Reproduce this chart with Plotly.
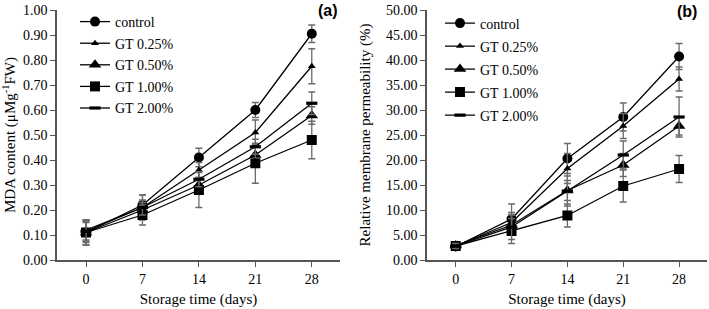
import plotly.graph_objects as go

days = [0, 7, 14, 21, 28]
names = ["control", "GT 0.25%", "GT 0.50%", "GT 1.00%", "GT 2.00%"]

mda_control = [0.11, 0.22, 0.41, 0.60, 0.905]
mda_gt025 = [0.12, 0.21, 0.36, 0.51, 0.775]
mda_gt050 = [0.11, 0.20, 0.30, 0.42, 0.578]
mda_gt100 = [0.11, 0.18, 0.28, 0.387, 0.48]
mda_gt200 = [0.115, 0.21, 0.323, 0.453, 0.627]

mda_err_control = [0.05, 0.04, 0.037, 0.03, 0.035]
mda_err_gt025 = [0.04, 0.05, 0.03, 0.05, 0.07]
mda_err_gt050 = [0.04, 0.03, 0.03, 0.04, 0.035]
mda_err_gt100 = [0.05, 0.04, 0.07, 0.08, 0.075]
mda_err_gt200 = [0.04, 0.03, 0.03, 0.03, 0.045]

rmp_control = [2.7, 8.2, 20.3, 28.6, 40.7]
rmp_gt025 = [2.8, 7.5, 18.3, 26.8, 36.2]
rmp_gt050 = [2.9, 7.0, 13.9, 19.0, 26.8]
rmp_gt100 = [2.8, 5.8, 8.9, 14.8, 18.2]
rmp_gt200 = [2.8, 6.6, 13.8, 21.0, 28.6]

rmp_err_control = [0.5, 3.0, 3.0, 2.8, 2.6]
rmp_err_gt025 = [0.5, 2.0, 3.0, 2.5, 2.4]
rmp_err_gt050 = [0.5, 2.0, 2.0, 2.3, 1.8]
rmp_err_gt100 = [0.4, 2.5, 2.3, 3.2, 2.7]
rmp_err_gt200 = [0.5, 2.5, 3.0, 2.8, 4.0]

y_ticks_a = [0.0, 0.1, 0.2, 0.3, 0.4, 0.5, 0.6, 0.7, 0.8, 0.9, 1.0]
y_ticks_b = [0, 5, 10, 15, 20, 25, 30, 35, 40, 45, 50]

mda = [mda_control, mda_gt025, mda_gt050, mda_gt100, mda_gt200]
mda_err = [mda_err_control, mda_err_gt025, mda_err_gt050, mda_err_gt100, mda_err_gt200]
rmp = [rmp_control, rmp_gt025, rmp_gt050, rmp_gt100, rmp_gt200]
rmp_err = [rmp_err_control, rmp_err_gt025, rmp_err_gt050, rmp_err_gt100, rmp_err_gt200]

symbols = ["circle", "triangle-up", "triangle-up", "square", "line-ew-open"]
sizes = [10, 7, 11, 10, 8]

FONT = "Liberation Serif, Times New Roman, serif"
W, H = 709, 309

fig = go.Figure()


def add_panel(ys, errs, xa, ya, legend):
    for i, name in enumerate(names):
        sym = symbols[i]
        marker = dict(symbol=sym, size=sizes[i], color="black")
        if sym == "line-ew-open":
            marker["line"] = dict(color="black", width=3.2)
        fig.add_trace(go.Scatter(
            x=days, y=ys[i], name=name, mode="lines+markers",
            xaxis=xa, yaxis=ya, legend=legend, legendgroup=legend + str(i),
            line=dict(color="black", width=1.3),
            marker=marker,
            error_y=dict(type="data", array=errs[i], visible=True,
                         color="#6b6b6b", thickness=1.3, width=3.5),
        ))


add_panel(mda, mda_err, "x", "y", "legend")
add_panel(rmp, rmp_err, "x2", "y2", "legend2")

# pixel geometry
ax_a = (57, 340)
ax_b = (427, 707)
top, bottom = 10, 260


def px_x(p):
    return p / W


def px_y(p):
    return 1 - p / H


axis_common = dict(
    showline=True, linecolor="#555555", linewidth=1.5,
    ticks="outside", ticklen=5, tickcolor="#555555", tickwidth=1.3,
    showgrid=False, zeroline=False, automargin=False,
    tickfont=dict(family=FONT, size=14, color="black"),
)

fig.update_layout(
    width=W, height=H,
    margin=dict(l=0, r=0, t=0, b=0),
    paper_bgcolor="white", plot_bgcolor="white",
    font=dict(family=FONT, size=14, color="black"),
    xaxis=dict(domain=[px_x(ax_a[0]), px_x(ax_a[1])], range=[-3.6, 31.5],
               tickvals=days, anchor="y",
               title=dict(text="Storage time (days)", font=dict(family=FONT, size=15), standoff=8),
               **axis_common),
    yaxis=dict(domain=[px_y(bottom), px_y(top)], range=[0, 1],
               tickvals=y_ticks_a, tickformat=".2f", anchor="x",
               title=dict(text="MDA content (μMg<sup>-1</sup>FW)", font=dict(family=FONT, size=15), standoff=6),
               **axis_common),
    xaxis2=dict(domain=[px_x(ax_b[0]), px_x(ax_b[1])], range=[-3.6, 31.5],
                tickvals=days, anchor="y2",
                title=dict(text="Storage time (days)", font=dict(family=FONT, size=15), standoff=8),
                **axis_common),
    yaxis2=dict(domain=[px_y(bottom), px_y(top)], range=[0, 50],
                tickvals=y_ticks_b, tickformat=".2f", anchor="x2",
                title=dict(text="Relative membrane permeability (%)", font=dict(family=FONT, size=15), standoff=12),
                **axis_common),
    legend=dict(x=px_x(75), y=px_y(6), xanchor="left", yanchor="top",
                bgcolor="rgba(0,0,0,0)", font=dict(family=FONT, size=14),
                tracegroupgap=0.4, itemsizing="trace"),
    legend2=dict(x=px_x(440), y=px_y(7.5), xanchor="left", yanchor="top",
                 bgcolor="rgba(0,0,0,0)", font=dict(family=FONT, size=14),
                 tracegroupgap=1.8, itemsizing="trace"),
    showlegend=True,
    annotations=[
        dict(text="<b>(a)</b>", x=px_x(340), y=px_y(0), xref="paper", yref="paper",
             xanchor="right", yanchor="top", showarrow=False,
             font=dict(family="Liberation Sans, Arial, sans-serif", size=16, color="black")),
        dict(text="<b>(b)</b>", x=px_x(699), y=px_y(1), xref="paper", yref="paper",
             xanchor="right", yanchor="top", showarrow=False,
             font=dict(family="Liberation Sans, Arial, sans-serif", size=16, color="black")),
    ],
)

fig.write_html("out.html")
